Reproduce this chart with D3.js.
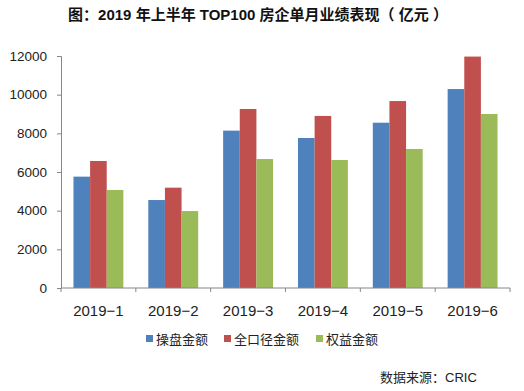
<!DOCTYPE html>
<html><head><meta charset="utf-8">
<script src="https://cdn.jsdelivr.net/npm/d3@7"></script>
<style>body{margin:0;background:#fff}svg{display:block}</style>
</head><body><svg id="c" width="524" height="391"></svg>
<script>
const categories = ["2019-1","2019-2","2019-3","2019-4","2019-5","2019-6"];
const seriesNames = ["操盘金额","全口径金额","权益金额"];
const operated = [5760, 4550, 8140, 7760, 8550, 10290];
const fullScope = [6570, 5190, 9260, 8900, 9670, 11970];
const equity = [5070, 3980, 6670, 6620, 7190, 9000];
const yTicks = [0,2000,4000,6000,8000,10000,12000];
const colors = ["#4F81BD","#C0504D","#9BBB59"];
const series = [operated, fullScope, equity];

const svg = d3.select("#c");
const font = "Arial, 'Liberation Sans', 'Noto Sans CJK SC', sans-serif";
const m = {l:61, r:14, t:56, b:103};
const W = 524, H = 391;
const x = d3.scaleBand().domain(categories).range([m.l, W-m.r]).paddingInner(1/3).paddingOuter(1/6);
const xs = d3.scaleBand().domain(seriesNames).range([0, x.bandwidth()]);
const y = d3.scaleLinear().domain([0,12000]).range([H-m.b, m.t]);

svg.append("text").attr("x",258).attr("y",20).attr("text-anchor","middle")
  .attr("font-family","Arial, 'Noto Sans CJK SC', sans-serif").attr("font-weight","bold").attr("font-size",15)
  .attr("fill","#111").text("图：2019 年上半年 TOP100 房企单月业绩表现（ 亿元 ）");

// bars
seriesNames.forEach((s,i)=>{
  svg.append("g").selectAll("rect").data(categories).join("rect")
    .attr("x",d=>x(d)+xs(s)).attr("width",xs.bandwidth())
    .attr("y",(d,j)=>y(series[i][j])).attr("height",(d,j)=>y(0)-y(series[i][j]))
    .attr("fill",colors[i]);
});

// y axis
const ya = svg.append("g").attr("transform",`translate(${m.l},0)`)
  .call(d3.axisLeft(y).tickValues(yTicks).tickSize(4).tickPadding(10).tickFormat(d3.format("d")));
ya.select(".domain").attr("stroke","#868686");
ya.selectAll(".tick line").attr("stroke","#868686");
ya.selectAll("text").attr("font-family",font).attr("font-size",13.5).attr("fill","#222");

// x axis
const xa = svg.append("g").attr("transform",`translate(0,${y(0)})`)
  .call(d3.axisBottom(x).tickSize(0).tickPadding(17).tickFormat(d=>d.replace("-","\u2212")));
xa.select(".domain").attr("stroke","#868686").attr("d",`M${m.l},0H${W-m.r}`);
xa.selectAll("text").attr("font-family",font).attr("font-size",15).attr("fill","#222");
const step = x.step();
xa.append("g").selectAll("line").data(d3.range(categories.length+1)).join("line")
  .attr("x1",i=>m.l+i*step).attr("x2",i=>m.l+i*step).attr("y1",0).attr("y2",4).attr("stroke","#868686");

// legend
const legX = [146, 224, 316];
const lg = svg.append("g");
seriesNames.forEach((s,i)=>{
  lg.append("rect").attr("x",legX[i]).attr("y",335).attr("width",7).attr("height",7).attr("fill",colors[i]);
  lg.append("text").attr("x",legX[i]+10).attr("y",344).attr("font-family",font).attr("font-size",13)
    .attr("fill","#222").text(s);
});

svg.append("text").attr("x",380).attr("y",382).attr("font-family",font).attr("font-size",13)
  .attr("fill","#222").text("数据来源：CRIC");
</script></body></html>
